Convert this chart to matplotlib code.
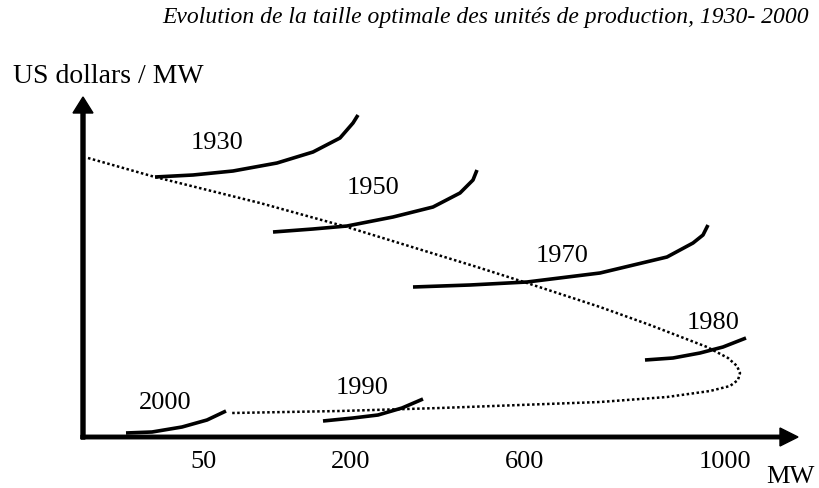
import matplotlib
matplotlib.use("Agg")
import matplotlib.pyplot as plt

# Schematic: cost per MW against unit size, one cost curve per period.
# Units are those of the drawing (x to the right, y downward).
years = ["1930", "1950", "1970", "1980", "1990", "2000"]
curve_x = [
    [155, 193, 233, 277, 313, 340, 353, 358],
    [273, 313, 347, 393, 433, 460, 473, 477],
    [413, 470, 527, 600, 667, 693, 703, 708],
    [645, 673, 700, 723, 746],
    [323, 353, 378, 402, 423],
    [126, 152, 182, 207, 226],
]
curve_y = [
    [177, 175, 171, 163, 152, 138, 123, 115],
    [232, 229, 226, 217, 207, 193, 180, 170],
    [287, 285, 282, 273, 257, 243, 235, 225],
    [360, 358, 353, 347, 338],
    [421, 418, 415, 408, 399],
    [433, 432, 427, 420, 411],
]

# path of the optimum size (dotted)
opt_x = [88, 155, 260, 347, 477, 527, 600, 650, 707, 728, 737, 740, 738, 730,
         710, 667, 600, 520, 440, 340, 232]
opt_y = [158, 177, 203, 227, 267, 283, 307, 325, 347, 358, 366, 373, 380, 386,
         391, 397, 402, 405, 408, 411, 413]

mw_ticks = ["50", "200", "600", "1000"]

# where the year labels sit
label_x = [217, 373, 562, 713, 362, 165]
label_y = [143, 188, 256, 323, 388, 403]
tick_x = [203, 351, 525, 725]

fig = plt.figure(figsize=(8.19, 4.88), dpi=100)
ax = fig.add_axes([0, 0, 1, 1])
ax.set_xlim(0, 819)
ax.set_ylim(488, 0)
ax.axis("off")

serif = "Liberation Serif"

# axes with arrows
ax.arrow(83, 439, 0, -342, width=4, head_width=20, head_length=16,
         length_includes_head=True, color="black")
ax.arrow(81, 437, 717, 0, width=3.5, head_width=18, head_length=18,
         length_includes_head=True, color="black")

ax.plot(opt_x, opt_y, color="black", lw=1.8, linestyle=(0, (1, 1)))

for i in range(len(years)):
    ax.plot(curve_x[i], curve_y[i], color="black", lw=2.6,
            solid_capstyle="butt", solid_joinstyle="round")
    ax.text(label_x[i], label_y[i], years[i], fontsize=19, family=serif,
            ha="center", va="center")

for i in range(len(mw_ticks)):
    ax.text(tick_x[i], 462, mw_ticks[i], fontsize=19, family=serif,
            ha="center", va="center")
ax.text(790, 477, "MW", fontsize=19, family=serif, ha="center", va="center")

ax.text(13, 83, "US dollars / MW", fontsize=20, family=serif,
        ha="left", va="baseline")
ax.text(486, 17, "Evolution de la taille optimale des unités de production, 1930- 2000",
        fontsize=17, family=serif, style="italic", ha="center", va="center")

fig.savefig("out.png", dpi=100)
